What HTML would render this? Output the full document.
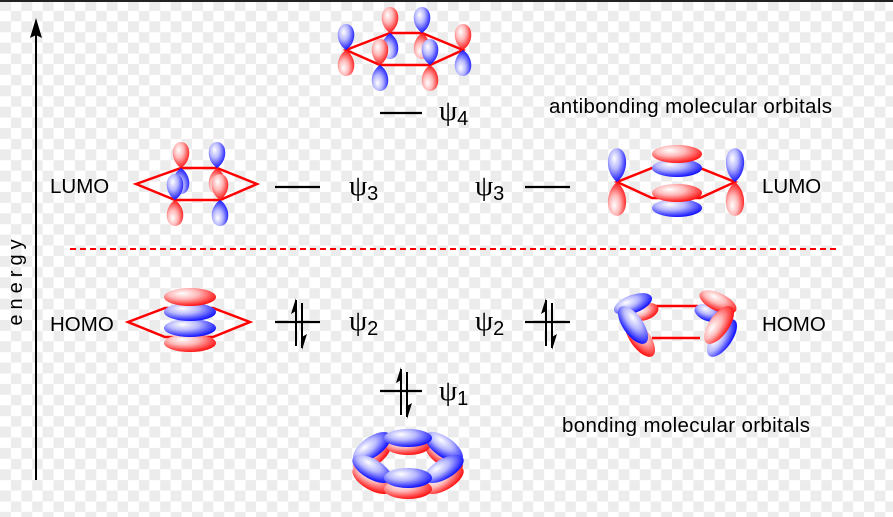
<!DOCTYPE html>
<html><head><meta charset="utf-8"><style>
html,body{margin:0;padding:0}
body{width:893px;height:517px;overflow:hidden;position:relative;
background-color:#fff;
background-image:conic-gradient(#fff 0 25%,#ececec 0 50%,#fff 0 75%,#ececec 0);
background-size:21.33px 21.33px;}
svg{position:absolute;left:0;top:0}
</style></head><body>
<svg width="893" height="517" viewBox="0 0 893 517" xmlns="http://www.w3.org/2000/svg" font-family="Liberation Sans, sans-serif">
<defs>
<radialGradient id="gb" cx="0.4" cy="0.35" r="0.65" fx="0.35" fy="0.3">
<stop offset="0" stop-color="#ffffff"/><stop offset="0.45" stop-color="#b8b8ff"/><stop offset="1" stop-color="#1515ff"/></radialGradient>
<radialGradient id="gr" cx="0.4" cy="0.35" r="0.65" fx="0.35" fy="0.3">
<stop offset="0" stop-color="#ffffff"/><stop offset="0.45" stop-color="#ffb8b8"/><stop offset="1" stop-color="#ff1515"/></radialGradient>
<path id="lu" d="M0,0 C-12,-8 -10,-26 0,-26 C10,-26 12,-8 0,0Z"/>
</defs>
<rect x="0" y="0" width="893" height="2" fill="#222"/>
<!-- energy axis -->
<line x1="36" y1="480" x2="36" y2="34" stroke="#000" stroke-width="2"/>
<path d="M36,18 L30,38 L36,35 L42,38Z" fill="#000"/>
<text transform="translate(22,280) rotate(-90)" text-anchor="middle" font-size="20" letter-spacing="5">energy</text>
<line x1="70" y1="249" x2="836" y2="249" stroke="#f00" stroke-width="2" stroke-dasharray="6,4"/>
<!-- labels -->
<g font-size="20.5" fill="#000">
<text x="50" y="193">LUMO</text>
<text x="50" y="331">HOMO</text>
<text x="762" y="193">LUMO</text>
<text x="762" y="331">HOMO</text>
<text x="549" y="113" textLength="283">antibonding molecular orbitals</text>
<text x="562" y="432" textLength="248">bonding molecular orbitals</text>
</g>
<g font-family="Liberation Serif, serif" font-size="29" fill="#000">
<text x="439" y="120">ψ<tspan font-family="Liberation Sans, sans-serif" font-size="20" dy="5">4</tspan></text>
<text x="349" y="195">ψ<tspan font-family="Liberation Sans, sans-serif" font-size="20" dy="5">3</tspan></text>
<text x="475" y="195">ψ<tspan font-family="Liberation Sans, sans-serif" font-size="20" dy="5">3</tspan></text>
<text x="349" y="330">ψ<tspan font-family="Liberation Sans, sans-serif" font-size="20" dy="5">2</tspan></text>
<text x="475" y="330">ψ<tspan font-family="Liberation Sans, sans-serif" font-size="20" dy="5">2</tspan></text>
<text x="439" y="400">ψ<tspan font-family="Liberation Sans, sans-serif" font-size="20" dy="5">1</tspan></text>
</g>
<!-- level lines -->
<g stroke="#000" stroke-width="2.2">
<line x1="380" y1="113" x2="422" y2="113"/>
<line x1="275" y1="187" x2="320" y2="187"/>
<line x1="525" y1="187" x2="570" y2="187"/>
<line x1="275" y1="322" x2="320" y2="322"/>
<line x1="525" y1="322" x2="570" y2="322"/>
<line x1="380" y1="391" x2="422" y2="391"/>
</g>
<!-- spin arrows -->
<g id="sp">
<line x1="296" y1="346" x2="296" y2="300" stroke="#000" stroke-width="2"/>
<path d="M296,298 L291,314 L296,311Z" fill="#000"/>
<line x1="302" y1="303" x2="302" y2="348" stroke="#000" stroke-width="2"/>
<path d="M302,350 L307,334 L302,337Z" fill="#000"/>
</g>
<use href="#sp" x="250" y="0"/>
<use href="#sp" x="105" y="69"/>

<!-- psi4 molecule -->
<g stroke="#f00" stroke-width="2.5" fill="none"><polygon points="346,50 390,33 422,33 463,50 430,65 380,65"/></g>
<use href="#lu" transform="translate(346,50)" fill="url(#gb)"/>
<use href="#lu" transform="translate(346,50) scale(1,-1)" fill="url(#gr)"/>
<use href="#lu" transform="translate(390,33)" fill="url(#gr)"/>
<use href="#lu" transform="translate(390,33) scale(1,-1)" fill="url(#gb)"/>
<use href="#lu" transform="translate(422,33)" fill="url(#gb)"/>
<use href="#lu" transform="translate(422,33) scale(1,-1)" fill="url(#gr)"/>
<use href="#lu" transform="translate(463,50)" fill="url(#gr)"/>
<use href="#lu" transform="translate(463,50) scale(1,-1)" fill="url(#gb)"/>
<use href="#lu" transform="translate(380,65)" fill="url(#gr)"/>
<use href="#lu" transform="translate(380,65) scale(1,-1)" fill="url(#gb)"/>
<use href="#lu" transform="translate(430,65)" fill="url(#gb)"/>
<use href="#lu" transform="translate(430,65) scale(1,-1)" fill="url(#gr)"/>

<!-- left LUMO -->
<g stroke="#f00" stroke-width="2.5" fill="none"><polygon points="136,184 181,168 217,168 257,184 220,200 175,200"/></g>
<use href="#lu" transform="translate(181,168)" fill="url(#gr)"/>
<use href="#lu" transform="translate(181,168) scale(1,-1)" fill="url(#gb)"/>
<use href="#lu" transform="translate(217,168)" fill="url(#gb)"/>
<use href="#lu" transform="translate(217,168) scale(1,-1)" fill="url(#gr)"/>
<use href="#lu" transform="translate(175,200)" fill="url(#gb)"/>
<use href="#lu" transform="translate(175,200) scale(1,-1)" fill="url(#gr)"/>
<use href="#lu" transform="translate(220,200)" fill="url(#gr)"/>
<use href="#lu" transform="translate(220,200) scale(1,-1)" fill="url(#gb)"/>

<!-- left HOMO -->
<g stroke="#f00" stroke-width="2.5" fill="none"><polygon points="128,322 165,308 213,308 250,322 213,337 165,337"/></g>
<ellipse cx="190" cy="343" rx="26" ry="9" fill="url(#gr)"/>
<ellipse cx="190" cy="328" rx="26" ry="9" fill="url(#gb)"/>
<ellipse cx="190" cy="312" rx="26" ry="9" fill="url(#gb)"/>
<ellipse cx="190" cy="297" rx="26" ry="9" fill="url(#gr)"/>

<!-- right LUMO -->
<g stroke="#f00" stroke-width="2.5" fill="none"><polygon points="617,182 652,168 700,168 735,182 700,198 652,198"/></g>
<ellipse cx="677" cy="168" rx="25" ry="9" fill="url(#gb)"/>
<ellipse cx="677" cy="154" rx="25" ry="9" fill="url(#gr)"/>
<ellipse cx="677" cy="208" rx="25" ry="9" fill="url(#gb)"/>
<ellipse cx="677" cy="193" rx="25" ry="9" fill="url(#gr)"/>
<use href="#lu" transform="translate(617,182) scale(1.1,1.3)" fill="url(#gb)"/>
<use href="#lu" transform="translate(617,182) scale(1.1,-1.3)" fill="url(#gr)"/>
<use href="#lu" transform="translate(735,182) scale(1.1,1.3)" fill="url(#gb)"/>
<use href="#lu" transform="translate(735,182) scale(1.1,-1.3)" fill="url(#gr)"/>

<!-- right HOMO -->
<g stroke="#f00" stroke-width="2.5" fill="none">
<line x1="650" y1="306" x2="698" y2="306"/><line x1="652" y1="338" x2="700" y2="338"/>
</g>
<ellipse cx="645" cy="312" rx="14" ry="8" transform="rotate(-20 645 312)" fill="url(#gr)"/>
<ellipse cx="633" cy="304" rx="20" ry="9" transform="rotate(-20 633 304)" fill="url(#gb)"/>
<ellipse cx="640" cy="338" rx="22" ry="10" transform="rotate(55 640 338)" fill="url(#gr)"/>
<ellipse cx="633" cy="325" rx="22" ry="10" transform="rotate(55 633 325)" fill="url(#gb)"/>
<ellipse cx="708" cy="313" rx="14" ry="8" transform="rotate(20 708 313)" fill="url(#gb)"/>
<ellipse cx="718" cy="302" rx="20" ry="9" transform="rotate(25 718 302)" fill="url(#gr)"/>
<ellipse cx="722" cy="338" rx="22" ry="10" transform="rotate(-55 722 338)" fill="url(#gb)"/>
<ellipse cx="719" cy="325" rx="22" ry="10" transform="rotate(-55 719 325)" fill="url(#gr)"/>

<!-- psi1 torus -->
<g>
<ellipse cx="372" cy="456" rx="22" ry="10" transform="rotate(-35 372 456)" fill="url(#gr)"/>
<ellipse cx="444" cy="456" rx="22" ry="10" transform="rotate(35 444 456)" fill="url(#gr)"/>
<ellipse cx="408" cy="446" rx="22" ry="9" fill="url(#gr)"/>
<ellipse cx="372" cy="480" rx="22" ry="10" transform="rotate(30 372 480)" fill="url(#gr)"/>
<ellipse cx="444" cy="480" rx="22" ry="10" transform="rotate(-30 444 480)" fill="url(#gr)"/>
<ellipse cx="408" cy="489" rx="24" ry="10" fill="url(#gr)"/>
<ellipse cx="372" cy="447" rx="22" ry="10" transform="rotate(-35 372 447)" fill="url(#gb)"/>
<ellipse cx="444" cy="447" rx="22" ry="10" transform="rotate(35 444 447)" fill="url(#gb)"/>
<ellipse cx="408" cy="438" rx="24" ry="9" fill="url(#gb)"/>
<ellipse cx="372" cy="469" rx="22" ry="10" transform="rotate(30 372 469)" fill="url(#gb)"/>
<ellipse cx="444" cy="469" rx="22" ry="10" transform="rotate(-30 444 469)" fill="url(#gb)"/>
<ellipse cx="408" cy="478" rx="24" ry="10" fill="url(#gb)"/>
</g>
</svg>
</body></html>
